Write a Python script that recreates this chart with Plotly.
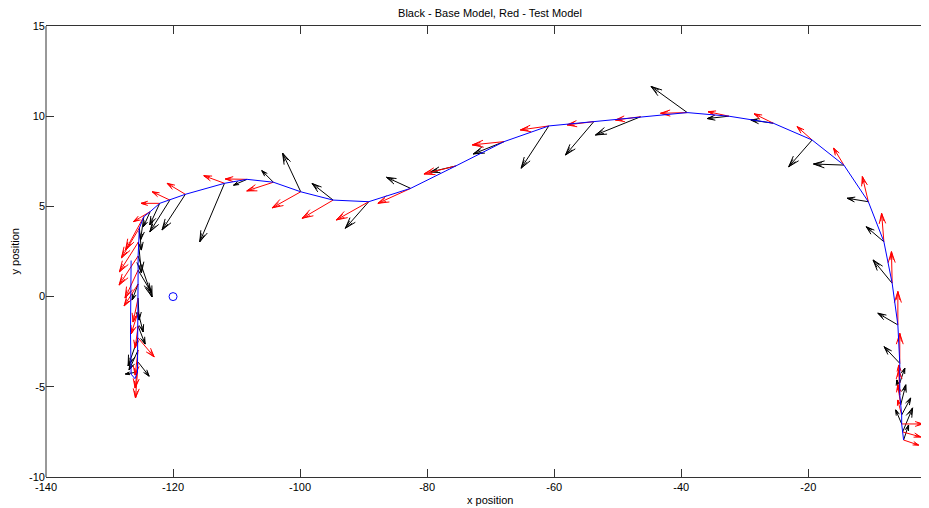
import math
import plotly.graph_objects as go

# ---------------- data ----------------
# sample positions along the trajectory (arrow tails)
pos_x = [-5.0, -5.15, -5.3, -5.3, -5.45, -5.6, -5.6, -5.6, -5.9, -6.8,
         -8.1, -10.55, -14.4, -19.4, -25.5, -32.5, -39.05, -46.4, -53.76, -60.85,
         -67.9, -75.5, -82.6, -89.2, -94.8, -99.9, -104.2, -108.35, -111.9, -118.06,
         -120.5, -122.1, -123.6, -124.6, -125.3, -125.45, -125.5, -125.5, -125.5, -125.5,
         -125.5, -125.5, -125.5, -125.5, -125.5, -125.6]
pos_y = [-7.95, -7.5, -7.06, -6.56, -6.0, -5.45, -4.79, -3.70, -1.57, 0.74,
         3.04, 5.26, 7.29, 8.68, 9.61, 10.0, 10.2, 9.97, 9.7, 9.46,
         8.59, 7.24, 6.0, 5.26, 5.35, 5.81, 6.34, 6.5, 6.28, 5.67,
         5.35, 5.17, 4.71, 4.43, 3.8, 3.03, 2.25, 1.47, 0.7, -0.08,
         -0.85, -1.63, -2.29, -2.96, -3.63, -4.18]

# remaining part of the trajectory (line only)
tail_x = [-126.0, -126.6, -126.7, -126.7, -126.6]
tail_y = [-4.55, -4.3, -2.0, 0.5, 2.0]

# Test model heading vectors (red)
test_u = [2.36, 2.83, 3.3, -0.63, -0.47, -0.16, -0.16, 0.0, 0.0, -0.11,
          -0.36, -0.94, -1.62, -2.36, -3.02, -3.28, -4.2, -3.94, -4.19, -4.46,
          -4.98, -5.0, -5.15, -5.09, -4.88, -4.5, -4.19, -3.42, -3.26, -2.88,
          -2.77, -2.93, -2.63, -2.88, -2.83, -2.99, -2.99, -2.05, -2.2, -0.79,
          -1.1, -0.47, 2.52, -0.47, -0.47, -0.31]
test_v = [-0.28, -0.28, 0.0, 0.83, 1.11, 1.39, 1.0, 1.66, 1.85, 1.75,
          1.57, 1.39, 0.94, 0.74, 0.52, 0.25, -0.04, -0.18, -0.18, -0.22,
          -0.18, -0.44, -0.83, -1.01, -1.01, -0.89, -0.48, 0.02, 0.42, 0.61,
          0.46, 0.0, -0.55, -1.85, -1.66, -1.66, -1.61, -1.55, -1.22, -1.33,
          -1.22, -1.22, -1.05, -1.39, -1.44, -1.44]

# Base model heading vectors (black)
base_u = [0.79, 1.57, -0.94, 1.42, 0.79, -0.47, 0.79, -2.46, -3.15, -3.0,
          -2.77, -3.31, -4.77, -3.68, -3.54, -3.4, -5.7, -7.09, -4.46, -4.35,
          -4.82, -3.94, -3.78, -3.67, -3.31, -2.85, -1.83, -2.11, -3.89, -3.67,
          -3.15, -1.57, -1.06, -0.52, 0.31, 0.47, 2.2, 2.05, -0.94, 0.16,
          0.79, 1.1, -1.57, -1.42, 1.73, -1.89]
base_v = [0.83, 1.33, 0.78, 0.94, 1.11, 0.83, 0.83, 0.92, 0.65, 1.29,
          0.83, 0.19, 0.06, -1.48, 0.18, -0.13, 1.45, -1.01, -1.85, -2.34,
          -0.68, -0.33, 0.61, -1.47, 0.92, 2.14, 0.64, -0.32, -3.24, -1.98,
          -1.76, -1.2, -0.83, -1.29, -1.22, -1.72, -2.27, -1.22, -0.89, -1.22,
          -1.11, -1.0, -1.55, -1.11, -0.78, -0.11]

start_x = [-120]
start_y = [0]

x_ticks = [-140, -120, -100, -80, -60, -40, -20]
y_ticks = [-10, -5, 0, 5, 10, 15]

# ---------------- layout geometry ----------------
# the page body adds an 8px offset; the figure is sized to fill the rest
OFF = 8
W, H = 929 - OFF, 508 - OFF
ML, MR, MT, MB = 46 - OFF, 0, 26 - OFF, 31
X_RANGE = [-140, -1.0]
Y_RANGE = [-10, 15]
SX = (W - ML - MR) / (X_RANGE[1] - X_RANGE[0])   # px per x unit
SY = (H - MT - MB) / (Y_RANGE[1] - Y_RANGE[0])   # px per y unit


def quiver_lines(xs, ys, us, vs):
    lx, ly = [], []
    for x, y, u, v in zip(xs, ys, us, vs):
        x1, y1 = x + u, y + v
        dx, dy = u * SX, v * SY
        L = math.hypot(dx, dy)
        if L == 0:
            continue
        ex, ey = dx / L, dy / L
        head = min(0.36 * L, 11.0)
        hw = 0.32 * head
        bx, by = dx - head * ex, dy - head * ey
        nx, ny = -ey, ex
        b1x, b1y = (bx + hw * nx) / SX, (by + hw * ny) / SY
        b2x, b2y = (bx - hw * nx) / SX, (by - hw * ny) / SY
        # shaft + two barbs, second barb slightly inset for a denser head
        c1x, c1y = (bx + 0.5 * hw * nx + 0.25 * head * ex) / SX, (by + 0.5 * hw * ny + 0.25 * head * ey) / SY
        c2x, c2y = (bx - 0.5 * hw * nx + 0.25 * head * ex) / SX, (by - 0.5 * hw * ny + 0.25 * head * ey) / SY
        lx += [x, x1, None, x + b1x, x1, x + b2x, None, x + c1x, x1, x + c2x, None]
        ly += [y, y1, None, y + b1y, y1, y + b2y, None, y + c1y, y1, y + c2y, None]
    return lx, ly


fig = go.Figure()

bx, by = quiver_lines(pos_x, pos_y, base_u, base_v)
fig.add_trace(go.Scatter(x=bx, y=by, mode="lines",
                         line=dict(color="black", width=1), hoverinfo="skip",
                         showlegend=False))
rx, ry = quiver_lines(pos_x, pos_y, test_u, test_v)
fig.add_trace(go.Scatter(x=rx, y=ry, mode="lines",
                         line=dict(color="#ff0000", width=1), hoverinfo="skip",
                         showlegend=False))
fig.add_trace(go.Scatter(x=pos_x + tail_x, y=pos_y + tail_y, mode="lines",
                         line=dict(color="#0000ff", width=1), showlegend=False))
fig.add_trace(go.Scatter(x=start_x, y=start_y, mode="markers",
                         marker=dict(symbol="circle-open", size=8,
                                     color="#0000ff", line=dict(width=1)),
                         showlegend=False))

font = dict(family="Liberation Sans, Arial, sans-serif", size=11, color="#000")

fig.update_layout(
    width=W, height=H,
    margin=dict(l=ML, r=MR, t=MT, b=MB, pad=0),
    paper_bgcolor="white", plot_bgcolor="white",
    font=font,
    showlegend=False,
    title=dict(text="Black - Base Model, Red - Test Model",
               x=(490 - OFF) / W, xref="container", xanchor="center",
               y=1 - 1.5 / H, yref="container", yanchor="top",
               font=font),
    xaxis=dict(range=X_RANGE, tickvals=x_ticks, ticktext=[str(t) for t in x_ticks],
               ticks="inside", ticklen=8, tickcolor="#333", tickwidth=1,
               showline=True, linecolor="#333", linewidth=1, mirror="ticks",
               showgrid=False, zeroline=False, tickfont=font, fixedrange=True),
    yaxis=dict(range=Y_RANGE, tickvals=y_ticks, ticktext=[str(t) for t in y_ticks],
               ticks="inside", ticklen=8, tickcolor="#333", tickwidth=1,
               showline=False, mirror="ticks",
               showgrid=False, zeroline=False, tickfont=font, fixedrange=True),
    shapes=[dict(type="line", xref="paper", yref="paper", x0=0, x1=0, y0=0, y1=1,
                 line=dict(color="#333", width=1))],
    annotations=[
        dict(text="x position", xref="paper", yref="paper",
             x=(490 - 46) / (W - ML - MR), y=0, yshift=-23,
             xanchor="center", yanchor="middle", showarrow=False, font=font),
        dict(text="y position", xref="paper", yref="paper",
             x=0, xshift=-(46 - 14), y=0.5, textangle=-90,
             xanchor="center", yanchor="middle", showarrow=False, font=font),
    ],
)

fig.write_html("out.html")
